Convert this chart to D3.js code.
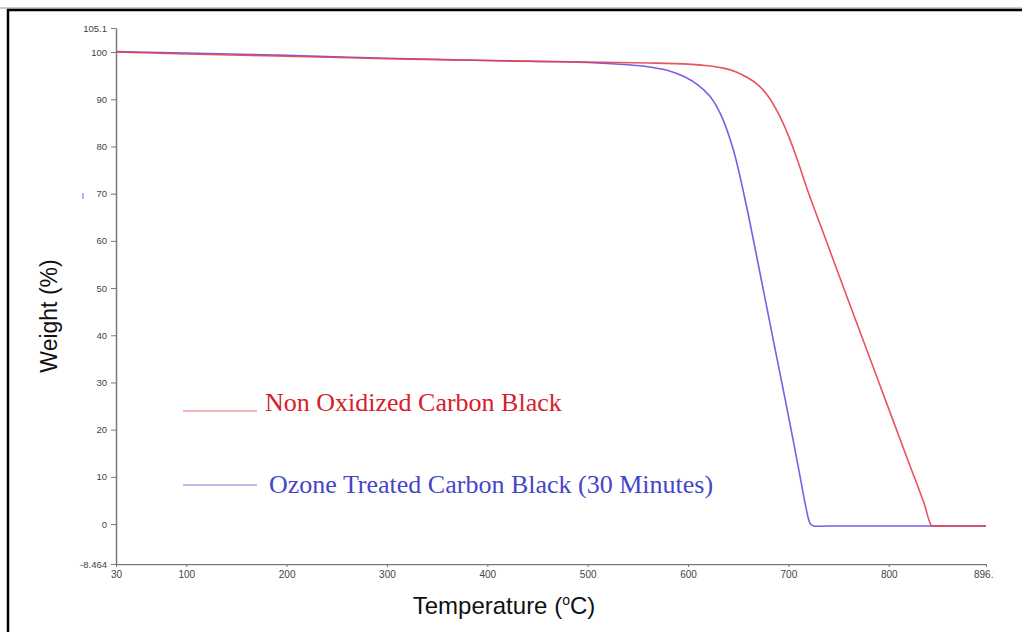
<!DOCTYPE html>
<html>
<head>
<meta charset="utf-8">
<script src="https://cdn.jsdelivr.net/npm/d3@7"></script>
<style>
  html, body { margin: 0; padding: 0; background: #fff; }
  svg { display: block; }
</style>
</head>
<body>
<svg id="chart" width="1022" height="632"></svg>
<script>
// TGA curves: temperature (°C) vs. remaining weight (%)
const nonOxTemp   = [30, 100, 200, 300, 400, 500, 560, 600, 620, 635, 648, 660, 670, 680, 690, 700, 710, 720, 740, 760, 780, 800, 820, 835, 842.5, 845, 870, 896.9];
const nonOxWeight = [100.0, 99.6, 99.1, 98.6, 98.2, 97.9, 97.7, 97.45, 97.1, 96.6, 95.8, 94.5, 93.0, 90.6, 87.0, 82.3, 76.5, 70.2, 58.7, 47.2, 35.8, 24.4, 13.0, 4.5, -0.3, -0.4, -0.4, -0.4];

const ozoneTemp   = [30, 100, 200, 300, 400, 500, 540, 560, 580, 597, 610, 622, 633, 645, 657, 667, 677, 687, 697, 705, 711, 715, 718, 720, 722, 725, 740, 896.9];
const ozoneWeight = [100.1, 99.8, 99.3, 98.7, 98.2, 97.8, 97.3, 96.9, 96.1, 94.7, 93.0, 90.6, 86.6, 79.4, 68.6, 58.2, 47.5, 36.8, 26.2, 17.5, 10.8, 6.2, 3.0, 1.1, 0.0, -0.4, -0.4, -0.4];

const xTicks = [30, 100, 200, 300, 400, 500, 600, 700, 800, 896.9];
const xTickLabels = ["30", "100", "200", "300", "400", "500", "600", "700", "800", "896.9"];
const yTicks = [-8.464, 0, 10, 20, 30, 40, 50, 60, 70, 80, 90, 100, 105.1];
const yTickLabels = ["-8.464", "0", "10", "20", "30", "40", "50", "60", "70", "80", "90", "100", "105.1"];

const seriesNames = ["Non Oxidized Carbon Black", "Ozone Treated Carbon Black (30 Minutes)"];

const svg = d3.select("#chart");

// frame
svg.append("line").attr("x1", 0).attr("x2", 1022).attr("y1", 8).attr("y2", 8)
  .attr("stroke", "#999").attr("stroke-width", 1);
svg.append("line").attr("x1", 7).attr("x2", 1022).attr("y1", 10).attr("y2", 10)
  .attr("stroke", "#000").attr("stroke-width", 2.5);
svg.append("line").attr("x1", 8).attr("x2", 8).attr("y1", 9).attr("y2", 632)
  .attr("stroke", "#000").attr("stroke-width", 2.5);

const x = d3.scaleLinear().domain([30, 896.9]).range([116, 986]);
const y = d3.scaleLinear().domain([-8.464, 105.1]).range([564, 28]);

const axisColor = "#7a7a7a";
const labelColor = "#444";

svg.append("defs").append("clipPath").attr("id", "clipR")
  .append("rect").attr("x", 0).attr("y", 0).attr("width", 994).attr("height", 632);

// x axis
const gx = svg.append("g").attr("transform", `translate(0,${y(-8.464)})`)
  .attr("clip-path", "url(#clipR)")
  .call(d3.axisBottom(x).tickValues(xTicks)
    .tickFormat((d, i) => xTickLabels[i]).tickSizeOuter(0).tickSizeInner(3).tickPadding(4));
gx.select(".domain").attr("stroke", axisColor).attr("stroke-width", 1.5);
gx.selectAll(".tick line").attr("stroke", axisColor).attr("y1", -2);
gx.selectAll(".tick text").attr("fill", labelColor)
  .style("font-family", "Arial, 'Liberation Sans', sans-serif").style("font-size", "10px");

// y axis
const gy = svg.append("g").attr("transform", `translate(${x(30)},0)`)
  .call(d3.axisLeft(y).tickValues(yTicks)
    .tickFormat((d, i) => yTickLabels[i]).tickSizeOuter(0).tickSizeInner(5).tickPadding(4));
gy.select(".domain").attr("stroke", axisColor).attr("stroke-width", 1.5);
gy.selectAll(".tick line").attr("stroke", axisColor);
gy.selectAll(".tick text").attr("fill", labelColor)
  .style("font-family", "Arial, 'Liberation Sans', sans-serif").style("font-size", "9.5px");

// curves
const line = d3.line()
  .x(d => x(d[0])).y(d => y(d[1]))
  .curve(d3.curveCatmullRom.alpha(0.5));

const nonOx = nonOxTemp.map((t, i) => [t, nonOxWeight[i]]);
const ozone = ozoneTemp.map((t, i) => [t, ozoneWeight[i]]);

const redColor = "#e8404a";
const blueColor = "#7d5ce6";

svg.append("path").datum(ozone).attr("d", line)
  .attr("fill", "none").attr("stroke", blueColor).attr("stroke-width", 1.6);
svg.append("path").datum(nonOx).attr("d", line)
  .attr("fill", "none").attr("stroke", redColor).attr("stroke-width", 1.6)
  .attr("stroke-opacity", 0.9);

// legend
const legend = [
  { name: seriesNames[0], stroke: "#ef6a6a", text: "#d8202c", y: 411, tx: 265, ty: 411 },
  { name: seriesNames[1], stroke: "#7a7ad8", text: "#4545c8", y: 485, tx: 269, ty: 493 }
];
legend.forEach(l => {
  svg.append("line").attr("x1", 183).attr("x2", 257).attr("y1", l.y).attr("y2", l.y)
    .attr("stroke", l.stroke).attr("stroke-width", 1.2);
  svg.append("text").attr("x", l.tx).attr("y", l.ty)
    .attr("fill", l.text)
    .style("font-family", "'Liberation Serif', 'Times New Roman', serif")
    .style("font-size", "26px")
    .text(l.name);
});

// small stray mark beside the y axis
svg.append("line").attr("x1", 83).attr("x2", 83).attr("y1", 193).attr("y2", 199)
  .attr("stroke", "#7a6ad8").attr("stroke-width", 1);

// axis titles
svg.append("text")
  .attr("transform", "translate(57,316) rotate(-90)")
  .attr("text-anchor", "middle")
  .attr("fill", "#111")
  .style("font-family", "Arial, 'Liberation Sans', sans-serif")
  .style("font-size", "23px")
  .text("Weight (%)");

const xt = svg.append("text")
  .attr("x", 504).attr("y", 614)
  .attr("text-anchor", "middle")
  .attr("fill", "#111")
  .style("font-family", "Arial, 'Liberation Sans', sans-serif")
  .style("font-size", "24px");
xt.append("tspan").text("Temperature (");
xt.append("tspan").attr("dy", -9).style("font-size", "14px").text("o");
xt.append("tspan").attr("dy", 9).text("C)");
</script>
</body>
</html>
